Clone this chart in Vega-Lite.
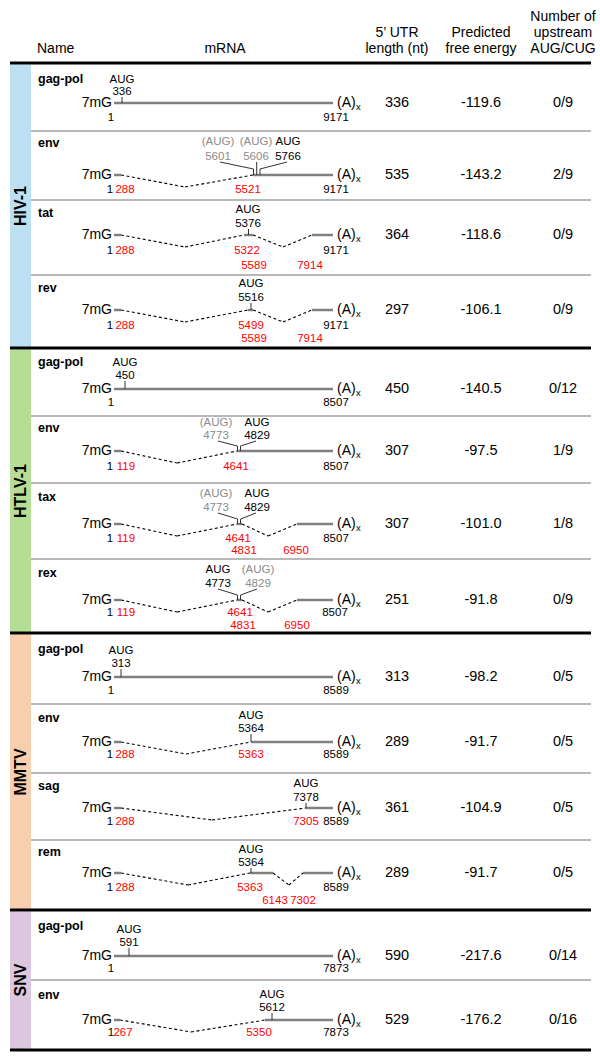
{
"$schema": "https://vega.github.io/schema/vega-lite/v6.json",
"width": 600, "height": 1059, "padding": 0,
"autosize": {"type": "fit", "contains": "padding"},
"background": "white",
"config": {"view": {"stroke": null}, "font": "Liberation Sans"},
"resolve": {"scale": {"color": "independent"}},
"datasets": {
"bars": [
{"sec":"HIV-1","x":10,"x2":31,"y":64.5,"y2":347},
{"sec":"HTLV-1","x":10,"x2":31,"y":349.5,"y2":632},
{"sec":"MMTV","x":10,"x2":31,"y":634.5,"y2":909},
{"sec":"SNV","x":10,"x2":31,"y":911.5,"y2":1049}
],
"lines": [
{"k":"thick","x":10,"y":63,"x2":591,"y2":63},
{"k":"thick","x":10,"y":348,"x2":591,"y2":348},
{"k":"thick","x":10,"y":633,"x2":591,"y2":633},
{"k":"thick","x":10,"y":910,"x2":591,"y2":910},
{"k":"thick","x":10,"y":1050,"x2":591,"y2":1050},
{"k":"sep","x":31,"y":131,"x2":591,"y2":131},
{"k":"sep","x":31,"y":200,"x2":591,"y2":200},
{"k":"sep","x":31,"y":275,"x2":591,"y2":275},
{"k":"sep","x":31,"y":416,"x2":591,"y2":416},
{"k":"sep","x":31,"y":483,"x2":591,"y2":483},
{"k":"sep","x":31,"y":559,"x2":591,"y2":559},
{"k":"sep","x":31,"y":704,"x2":591,"y2":704},
{"k":"sep","x":31,"y":773,"x2":591,"y2":773},
{"k":"sep","x":31,"y":840,"x2":591,"y2":840},
{"k":"sep","x":31,"y":980,"x2":591,"y2":980},

{"k":"exon","x":114,"y":103,"x2":333,"y2":103},
{"k":"exon","x":114,"y":175,"x2":121,"y2":175},
{"k":"exon","x":253,"y":175,"x2":333,"y2":175},
{"k":"exon","x":114,"y":235,"x2":121,"y2":235},
{"k":"exon","x":244,"y":235,"x2":253,"y2":235},
{"k":"exon","x":312,"y":235,"x2":333,"y2":235},
{"k":"exon","x":114,"y":310,"x2":121,"y2":310},
{"k":"exon","x":248,"y":310,"x2":253,"y2":310},
{"k":"exon","x":312,"y":310,"x2":333,"y2":310},
{"k":"exon","x":114,"y":389,"x2":333,"y2":389},
{"k":"exon","x":114,"y":451,"x2":121,"y2":451},
{"k":"exon","x":237,"y":451,"x2":333,"y2":451},
{"k":"exon","x":114,"y":524,"x2":121,"y2":524},
{"k":"exon","x":237,"y":524,"x2":242,"y2":524},
{"k":"exon","x":297,"y":524,"x2":333,"y2":524},
{"k":"exon","x":114,"y":600,"x2":121,"y2":600},
{"k":"exon","x":237,"y":600,"x2":242,"y2":600},
{"k":"exon","x":297,"y":600,"x2":333,"y2":600},
{"k":"exon","x":114,"y":677,"x2":333,"y2":677},
{"k":"exon","x":114,"y":742,"x2":121,"y2":742},
{"k":"exon","x":251,"y":742,"x2":333,"y2":742},
{"k":"exon","x":114,"y":808,"x2":121,"y2":808},
{"k":"exon","x":306,"y":808,"x2":333,"y2":808},
{"k":"exon","x":114,"y":873,"x2":121,"y2":873},
{"k":"exon","x":250,"y":873,"x2":273,"y2":873},
{"k":"exon","x":303,"y":873,"x2":333,"y2":873},
{"k":"exon","x":114,"y":956,"x2":333,"y2":956},
{"k":"exon","x":114,"y":1020,"x2":120,"y2":1020},
{"k":"exon","x":265,"y":1020,"x2":333,"y2":1020},

{"k":"intron","x":121,"y":175,"x2":185,"y2":187},
{"k":"intron","x":185,"y":187,"x2":253,"y2":175},
{"k":"intron","x":121,"y":235,"x2":185,"y2":247},
{"k":"intron","x":185,"y":247,"x2":244,"y2":235},
{"k":"intron","x":253,"y":235,"x2":283,"y2":247},
{"k":"intron","x":283,"y":247,"x2":312,"y2":235},
{"k":"intron","x":121,"y":310,"x2":185,"y2":322},
{"k":"intron","x":185,"y":322,"x2":248,"y2":310},
{"k":"intron","x":253,"y":310,"x2":283,"y2":322},
{"k":"intron","x":283,"y":322,"x2":312,"y2":310},
{"k":"intron","x":121,"y":451,"x2":177,"y2":463},
{"k":"intron","x":177,"y":463,"x2":237,"y2":451},
{"k":"intron","x":121,"y":524,"x2":177,"y2":536},
{"k":"intron","x":177,"y":536,"x2":237,"y2":524},
{"k":"intron","x":242,"y":524,"x2":268,"y2":536},
{"k":"intron","x":268,"y":536,"x2":297,"y2":524},
{"k":"intron","x":121,"y":600,"x2":177,"y2":612},
{"k":"intron","x":177,"y":612,"x2":237,"y2":600},
{"k":"intron","x":242,"y":600,"x2":268,"y2":612},
{"k":"intron","x":268,"y":612,"x2":297,"y2":600},
{"k":"intron","x":121,"y":742,"x2":186,"y2":754},
{"k":"intron","x":186,"y":754,"x2":251,"y2":742},
{"k":"intron","x":121,"y":808,"x2":212,"y2":820},
{"k":"intron","x":212,"y":820,"x2":306,"y2":808},
{"k":"intron","x":121,"y":873,"x2":188,"y2":885},
{"k":"intron","x":188,"y":885,"x2":250,"y2":873},
{"k":"intron","x":273,"y":873,"x2":289,"y2":885},
{"k":"intron","x":289,"y":885,"x2":303,"y2":873},
{"k":"intron","x":120,"y":1020,"x2":191,"y2":1032},
{"k":"intron","x":191,"y":1032,"x2":265,"y2":1020},

{"k":"tick","x":122,"y":97,"x2":122,"y2":103},
{"k":"tick","x":253.5,"y":169,"x2":253.5,"y2":175},
{"k":"tick","x":256.7,"y":169,"x2":256.7,"y2":175},
{"k":"tick","x":260,"y":169,"x2":260,"y2":175},
{"k":"tick","x":248.5,"y":229,"x2":248.5,"y2":235},
{"k":"tick","x":251,"y":303,"x2":251,"y2":310},
{"k":"tick","x":125,"y":381,"x2":125,"y2":389},
{"k":"tick","x":237.5,"y":446,"x2":237.5,"y2":451},
{"k":"tick","x":240.5,"y":446,"x2":240.5,"y2":451},
{"k":"tick","x":237.5,"y":519,"x2":237.5,"y2":524},
{"k":"tick","x":240.5,"y":519,"x2":240.5,"y2":524},
{"k":"tick","x":237.5,"y":595,"x2":237.5,"y2":600},
{"k":"tick","x":240.5,"y":595,"x2":240.5,"y2":600},
{"k":"tick","x":121,"y":669,"x2":121,"y2":677},
{"k":"tick","x":251,"y":734,"x2":251,"y2":742},
{"k":"tick","x":306,"y":803,"x2":306,"y2":808},
{"k":"tick","x":251,"y":868,"x2":251,"y2":873},
{"k":"tick","x":129,"y":948,"x2":129,"y2":956},
{"k":"tick","x":272,"y":1013,"x2":272,"y2":1020},

{"k":"conn","x":220,"y":162,"x2":253.5,"y2":169},
{"k":"conn","x":256.7,"y":162,"x2":256.7,"y2":169},
{"k":"conn","x":287,"y":162,"x2":260,"y2":169},
{"k":"conn","x":218,"y":441,"x2":237.5,"y2":446},
{"k":"conn","x":256,"y":441,"x2":240.5,"y2":446},
{"k":"conn","x":218,"y":513,"x2":237.5,"y2":519},
{"k":"conn","x":256,"y":513,"x2":240.5,"y2":519},
{"k":"conn","x":218,"y":589,"x2":237.5,"y2":595},
{"k":"conn","x":257,"y":589,"x2":240.5,"y2":595}
],
"texts": [
{"k":"hdrL","x":37,"y":49,"s":"Name"},
{"k":"hdr","x":225,"y":49,"s":"mRNA"},
{"k":"hdr","x":397,"y":33,"s":"5’ UTR"},
{"k":"hdr","x":397,"y":49,"s":"length (nt)"},
{"k":"hdr","x":481,"y":33,"s":"Predicted"},
{"k":"hdr","x":481,"y":49,"s":"free energy"},
{"k":"hdr","x":563,"y":17,"s":"Number of"},
{"k":"hdr","x":563,"y":33,"s":"upstream"},
{"k":"hdr","x":563,"y":49,"s":"AUG/CUG"},

{"k":"sec","x":20.5,"y":206,"s":"HIV-1"},
{"k":"sec","x":20.5,"y":491,"s":"HTLV-1"},
{"k":"sec","x":20.5,"y":772,"s":"MMTV"},
{"k":"sec","x":20.5,"y":980,"s":"SNV"},

{"k":"name","x":38,"y":79,"s":"gag-pol"},
{"k":"name","x":38,"y":143,"s":"env"},
{"k":"name","x":38,"y":213,"s":"tat"},
{"k":"name","x":38,"y":288,"s":"rev"},
{"k":"name","x":38,"y":362,"s":"gag-pol"},
{"k":"name","x":38,"y":428,"s":"env"},
{"k":"name","x":38,"y":497,"s":"tax"},
{"k":"name","x":38,"y":573,"s":"rex"},
{"k":"name","x":38,"y":649,"s":"gag-pol"},
{"k":"name","x":38,"y":718,"s":"env"},
{"k":"name","x":38,"y":786,"s":"sag"},
{"k":"name","x":38,"y":852,"s":"rem"},
{"k":"name","x":38,"y":926,"s":"gag-pol"},
{"k":"name","x":38,"y":995,"s":"env"},

{"k":"cap","x":112,"y":103,"s":"7mG"},
{"k":"cap","x":112,"y":175,"s":"7mG"},
{"k":"cap","x":112,"y":235,"s":"7mG"},
{"k":"cap","x":112,"y":310,"s":"7mG"},
{"k":"cap","x":112,"y":389,"s":"7mG"},
{"k":"cap","x":112,"y":451,"s":"7mG"},
{"k":"cap","x":112,"y":524,"s":"7mG"},
{"k":"cap","x":112,"y":600,"s":"7mG"},
{"k":"cap","x":112,"y":677,"s":"7mG"},
{"k":"cap","x":112,"y":742,"s":"7mG"},
{"k":"cap","x":112,"y":808,"s":"7mG"},
{"k":"cap","x":112,"y":873,"s":"7mG"},
{"k":"cap","x":112,"y":956,"s":"7mG"},
{"k":"cap","x":112,"y":1020,"s":"7mG"},

{"k":"pa","x":337,"y":103,"s":"(A)"},
{"k":"pa","x":337,"y":175,"s":"(A)"},
{"k":"pa","x":337,"y":235,"s":"(A)"},
{"k":"pa","x":337,"y":310,"s":"(A)"},
{"k":"pa","x":337,"y":389,"s":"(A)"},
{"k":"pa","x":337,"y":451,"s":"(A)"},
{"k":"pa","x":337,"y":524,"s":"(A)"},
{"k":"pa","x":337,"y":600,"s":"(A)"},
{"k":"pa","x":337,"y":677,"s":"(A)"},
{"k":"pa","x":337,"y":742,"s":"(A)"},
{"k":"pa","x":337,"y":808,"s":"(A)"},
{"k":"pa","x":337,"y":873,"s":"(A)"},
{"k":"pa","x":337,"y":956,"s":"(A)"},
{"k":"pa","x":337,"y":1020,"s":"(A)"},

{"k":"sub","x":356,"y":107,"s":"x"},
{"k":"sub","x":356,"y":179,"s":"x"},
{"k":"sub","x":356,"y":239,"s":"x"},
{"k":"sub","x":356,"y":314,"s":"x"},
{"k":"sub","x":356,"y":393,"s":"x"},
{"k":"sub","x":356,"y":455,"s":"x"},
{"k":"sub","x":356,"y":528,"s":"x"},
{"k":"sub","x":356,"y":604,"s":"x"},
{"k":"sub","x":356,"y":681,"s":"x"},
{"k":"sub","x":356,"y":746,"s":"x"},
{"k":"sub","x":356,"y":812,"s":"x"},
{"k":"sub","x":356,"y":877,"s":"x"},
{"k":"sub","x":356,"y":960,"s":"x"},
{"k":"sub","x":356,"y":1024,"s":"x"},

{"k":"val","x":397,"y":103,"s":"336"},{"k":"val","x":481,"y":103,"s":"-119.6"},{"k":"val","x":563,"y":103,"s":"0/9"},
{"k":"val","x":397,"y":175,"s":"535"},{"k":"val","x":481,"y":175,"s":"-143.2"},{"k":"val","x":563,"y":175,"s":"2/9"},
{"k":"val","x":397,"y":235,"s":"364"},{"k":"val","x":481,"y":235,"s":"-118.6"},{"k":"val","x":563,"y":235,"s":"0/9"},
{"k":"val","x":397,"y":310,"s":"297"},{"k":"val","x":481,"y":310,"s":"-106.1"},{"k":"val","x":563,"y":310,"s":"0/9"},
{"k":"val","x":397,"y":389,"s":"450"},{"k":"val","x":481,"y":389,"s":"-140.5"},{"k":"val","x":563,"y":389,"s":"0/12"},
{"k":"val","x":397,"y":451,"s":"307"},{"k":"val","x":481,"y":451,"s":"-97.5"},{"k":"val","x":563,"y":451,"s":"1/9"},
{"k":"val","x":397,"y":524,"s":"307"},{"k":"val","x":481,"y":524,"s":"-101.0"},{"k":"val","x":563,"y":524,"s":"1/8"},
{"k":"val","x":397,"y":600,"s":"251"},{"k":"val","x":481,"y":600,"s":"-91.8"},{"k":"val","x":563,"y":600,"s":"0/9"},
{"k":"val","x":397,"y":677,"s":"313"},{"k":"val","x":481,"y":677,"s":"-98.2"},{"k":"val","x":563,"y":677,"s":"0/5"},
{"k":"val","x":397,"y":742,"s":"289"},{"k":"val","x":481,"y":742,"s":"-91.7"},{"k":"val","x":563,"y":742,"s":"0/5"},
{"k":"val","x":397,"y":808,"s":"361"},{"k":"val","x":481,"y":808,"s":"-104.9"},{"k":"val","x":563,"y":808,"s":"0/5"},
{"k":"val","x":397,"y":873,"s":"289"},{"k":"val","x":481,"y":873,"s":"-91.7"},{"k":"val","x":563,"y":873,"s":"0/5"},
{"k":"val","x":397,"y":956,"s":"590"},{"k":"val","x":481,"y":956,"s":"-217.6"},{"k":"val","x":563,"y":956,"s":"0/14"},
{"k":"val","x":397,"y":1020,"s":"529"},{"k":"val","x":481,"y":1020,"s":"-176.2"},{"k":"val","x":563,"y":1020,"s":"0/16"},

{"k":"lab","r":"site","x":122,"y":80,"s":"AUG"},
{"k":"lab","r":"site","x":122,"y":92,"s":"336"},
{"k":"lab","r":"site","x":111,"y":118,"s":"1"},
{"k":"lab","r":"site","x":336,"y":118,"s":"9171"},

{"k":"lab","r":"upstream","x":218,"y":142,"s":"(AUG)"},
{"k":"lab","r":"upstream","x":256,"y":142,"s":"(AUG)"},
{"k":"lab","r":"site","x":288,"y":142,"s":"AUG"},
{"k":"lab","r":"upstream","x":218,"y":157,"s":"5601"},
{"k":"lab","r":"upstream","x":256,"y":157,"s":"5606"},
{"k":"lab","r":"site","x":288,"y":157,"s":"5766"},
{"k":"lab","r":"site","x":110,"y":190,"s":"1"},
{"k":"lab","r":"splice","x":125,"y":190,"s":"288"},
{"k":"lab","r":"splice","x":248,"y":190,"s":"5521"},
{"k":"lab","r":"site","x":336,"y":190,"s":"9171"},

{"k":"lab","r":"site","x":248,"y":210,"s":"AUG"},
{"k":"lab","r":"site","x":248,"y":224,"s":"5376"},
{"k":"lab","r":"site","x":110,"y":251,"s":"1"},
{"k":"lab","r":"splice","x":125,"y":251,"s":"288"},
{"k":"lab","r":"splice","x":247,"y":251,"s":"5322"},
{"k":"lab","r":"site","x":336,"y":251,"s":"9171"},
{"k":"lab","r":"splice","x":254,"y":266,"s":"5589"},
{"k":"lab","r":"splice","x":310,"y":266,"s":"7914"},

{"k":"lab","r":"site","x":251,"y":284,"s":"AUG"},
{"k":"lab","r":"site","x":251,"y":298,"s":"5516"},
{"k":"lab","r":"site","x":110,"y":326,"s":"1"},
{"k":"lab","r":"splice","x":125,"y":326,"s":"288"},
{"k":"lab","r":"splice","x":251,"y":326,"s":"5499"},
{"k":"lab","r":"site","x":336,"y":326,"s":"9171"},
{"k":"lab","r":"splice","x":254,"y":339,"s":"5589"},
{"k":"lab","r":"splice","x":310,"y":339,"s":"7914"},

{"k":"lab","r":"site","x":125,"y":363,"s":"AUG"},
{"k":"lab","r":"site","x":125,"y":376,"s":"450"},
{"k":"lab","r":"site","x":111,"y":403,"s":"1"},
{"k":"lab","r":"site","x":336,"y":403,"s":"8507"},

{"k":"lab","r":"upstream","x":216,"y":423,"s":"(AUG)"},
{"k":"lab","r":"site","x":257,"y":423,"s":"AUG"},
{"k":"lab","r":"upstream","x":216,"y":436,"s":"4773"},
{"k":"lab","r":"site","x":257,"y":436,"s":"4829"},
{"k":"lab","r":"site","x":110,"y":467,"s":"1"},
{"k":"lab","r":"splice","x":126,"y":467,"s":"119"},
{"k":"lab","r":"splice","x":236,"y":467,"s":"4641"},
{"k":"lab","r":"site","x":336,"y":467,"s":"8507"},

{"k":"lab","r":"upstream","x":216,"y":494,"s":"(AUG)"},
{"k":"lab","r":"site","x":257,"y":494,"s":"AUG"},
{"k":"lab","r":"upstream","x":216,"y":508,"s":"4773"},
{"k":"lab","r":"site","x":257,"y":508,"s":"4829"},
{"k":"lab","r":"site","x":110,"y":539,"s":"1"},
{"k":"lab","r":"splice","x":126,"y":539,"s":"119"},
{"k":"lab","r":"splice","x":238,"y":539,"s":"4641"},
{"k":"lab","r":"site","x":336,"y":539,"s":"8507"},
{"k":"lab","r":"splice","x":244,"y":551,"s":"4831"},
{"k":"lab","r":"splice","x":296,"y":551,"s":"6950"},

{"k":"lab","r":"site","x":218,"y":570,"s":"AUG"},
{"k":"lab","r":"upstream","x":258,"y":570,"s":"(AUG)"},
{"k":"lab","r":"site","x":218,"y":584,"s":"4773"},
{"k":"lab","r":"upstream","x":258,"y":584,"s":"4829"},
{"k":"lab","r":"site","x":110,"y":613,"s":"1"},
{"k":"lab","r":"splice","x":126,"y":613,"s":"119"},
{"k":"lab","r":"splice","x":240,"y":613,"s":"4641"},
{"k":"lab","r":"site","x":335,"y":613,"s":"8507"},
{"k":"lab","r":"splice","x":243,"y":626,"s":"4831"},
{"k":"lab","r":"splice","x":297,"y":626,"s":"6950"},

{"k":"lab","r":"site","x":121,"y":651,"s":"AUG"},
{"k":"lab","r":"site","x":121,"y":664,"s":"313"},
{"k":"lab","r":"site","x":111,"y":691,"s":"1"},
{"k":"lab","r":"site","x":336,"y":691,"s":"8589"},

{"k":"lab","r":"site","x":251,"y":716,"s":"AUG"},
{"k":"lab","r":"site","x":251,"y":729,"s":"5364"},
{"k":"lab","r":"site","x":110,"y":755,"s":"1"},
{"k":"lab","r":"splice","x":125,"y":755,"s":"288"},
{"k":"lab","r":"splice","x":251,"y":755,"s":"5363"},
{"k":"lab","r":"site","x":336,"y":755,"s":"8589"},

{"k":"lab","r":"site","x":306,"y":784,"s":"AUG"},
{"k":"lab","r":"site","x":306,"y":798,"s":"7378"},
{"k":"lab","r":"site","x":110,"y":822,"s":"1"},
{"k":"lab","r":"splice","x":125,"y":822,"s":"288"},
{"k":"lab","r":"splice","x":306,"y":822,"s":"7305"},
{"k":"lab","r":"site","x":336,"y":822,"s":"8589"},

{"k":"lab","r":"site","x":251,"y":850,"s":"AUG"},
{"k":"lab","r":"site","x":251,"y":863,"s":"5364"},
{"k":"lab","r":"site","x":110,"y":888,"s":"1"},
{"k":"lab","r":"splice","x":125,"y":888,"s":"288"},
{"k":"lab","r":"splice","x":250,"y":888,"s":"5363"},
{"k":"lab","r":"site","x":336,"y":888,"s":"8589"},
{"k":"lab","r":"splice","x":275,"y":901,"s":"6143"},
{"k":"lab","r":"splice","x":303,"y":901,"s":"7302"},

{"k":"lab","r":"site","x":129,"y":930,"s":"AUG"},
{"k":"lab","r":"site","x":129,"y":943,"s":"591"},
{"k":"lab","r":"site","x":111,"y":969,"s":"1"},
{"k":"lab","r":"site","x":336,"y":969,"s":"7873"},

{"k":"lab","r":"site","x":272,"y":995,"s":"AUG"},
{"k":"lab","r":"site","x":272,"y":1008,"s":"5612"},
{"k":"lab","r":"site","x":111,"y":1033,"s":"1"},
{"k":"lab","r":"splice","x":123,"y":1033,"s":"267"},
{"k":"lab","r":"splice","x":259,"y":1033,"s":"5350"},
{"k":"lab","r":"site","x":336,"y":1033,"s":"7873"}
]
},
"encoding": {
"x": {"field": "x", "type": "quantitative", "scale": {"domain": [0, 600], "nice": false, "zero": false}, "axis": null},
"y": {"field": "y", "type": "quantitative", "scale": {"domain": [0, 1059], "reverse": true, "nice": false, "zero": false}, "axis": null}
},
"layer": [
{"data": {"name": "bars"}, "mark": {"type": "rect"},
 "encoding": {"x2": {"field": "x2"}, "y2": {"field": "y2"},
  "color": {"field": "sec", "type": "nominal", "legend": null,
   "scale": {"domain": ["HIV-1","HTLV-1","MMTV","SNV"], "range": ["#bcdff1","#b6dd94","#f8cfae","#dbc7de"]}}}},
{"data": {"name": "lines"}, "transform": [{"filter": "datum.k == 'sep'"}],
 "mark": {"type": "rule", "color": "#a0a0a0", "strokeWidth": 1.5},
 "encoding": {"x2": {"field": "x2"}, "y2": {"field": "y2"}}},
{"data": {"name": "lines"}, "transform": [{"filter": "datum.k == 'thick'"}],
 "mark": {"type": "rule", "color": "#000000", "strokeWidth": 3},
 "encoding": {"x2": {"field": "x2"}, "y2": {"field": "y2"}}},
{"data": {"name": "lines"}, "transform": [{"filter": "datum.k == 'intron'"}],
 "mark": {"type": "rule", "color": "#000000", "strokeWidth": 1.1, "strokeDash": [3, 2.5]},
 "encoding": {"x2": {"field": "x2"}, "y2": {"field": "y2"}}},
{"data": {"name": "lines"}, "transform": [{"filter": "datum.k == 'exon'"}],
 "mark": {"type": "rule", "color": "#808080", "strokeWidth": 2.5},
 "encoding": {"x2": {"field": "x2"}, "y2": {"field": "y2"}}},
{"data": {"name": "lines"}, "transform": [{"filter": "datum.k == 'tick' || datum.k == 'conn'"}],
 "mark": {"type": "rule", "color": "#333333", "strokeWidth": 1},
 "encoding": {"x2": {"field": "x2"}, "y2": {"field": "y2"}}},
{"data": {"name": "texts"}, "transform": [{"filter": "datum.k == 'hdr'"}],
 "mark": {"type": "text", "align": "center", "baseline": "middle", "fontSize": 14, "font": "Liberation Sans", "color": "#000"},
 "encoding": {"text": {"field": "s"}}},
{"data": {"name": "texts"}, "transform": [{"filter": "datum.k == 'hdrL'"}],
 "mark": {"type": "text", "align": "left", "baseline": "middle", "fontSize": 14, "font": "Liberation Sans", "color": "#000"},
 "encoding": {"text": {"field": "s"}}},
{"data": {"name": "texts"}, "transform": [{"filter": "datum.k == 'sec'"}],
 "mark": {"type": "text", "align": "center", "baseline": "middle", "angle": 270, "fontSize": 16, "fontWeight": "bold", "font": "Liberation Sans", "color": "#000"},
 "encoding": {"text": {"field": "s"}}},
{"data": {"name": "texts"}, "transform": [{"filter": "datum.k == 'name'"}],
 "mark": {"type": "text", "align": "left", "baseline": "middle", "fontSize": 12.5, "fontWeight": "bold", "font": "Liberation Sans", "color": "#000"},
 "encoding": {"text": {"field": "s"}}},
{"data": {"name": "texts"}, "transform": [{"filter": "datum.k == 'cap'"}],
 "mark": {"type": "text", "align": "right", "baseline": "middle", "fontSize": 14, "font": "Liberation Sans", "color": "#000"},
 "encoding": {"text": {"field": "s"}}},
{"data": {"name": "texts"}, "transform": [{"filter": "datum.k == 'pa'"}],
 "mark": {"type": "text", "align": "left", "baseline": "middle", "fontSize": 14, "font": "Liberation Sans", "color": "#000"},
 "encoding": {"text": {"field": "s"}}},
{"data": {"name": "texts"}, "transform": [{"filter": "datum.k == 'sub'"}],
 "mark": {"type": "text", "align": "left", "baseline": "middle", "fontSize": 9.5, "font": "Liberation Sans", "color": "#000"},
 "encoding": {"text": {"field": "s"}}},
{"data": {"name": "texts"}, "transform": [{"filter": "datum.k == 'val'"}],
 "mark": {"type": "text", "align": "center", "baseline": "middle", "fontSize": 14.5, "font": "Liberation Sans", "color": "#000"},
 "encoding": {"text": {"field": "s"}}},
{"data": {"name": "texts"}, "transform": [{"filter": "datum.k == 'lab'"}],
 "mark": {"type": "text", "align": "center", "baseline": "middle", "fontSize": 11.5, "font": "Liberation Sans"},
 "encoding": {"text": {"field": "s"},
  "color": {"field": "r", "type": "nominal", "legend": null,
   "scale": {"domain": ["site","upstream","splice"], "range": ["#000000","#8c8c8c","#ff0000"]}}}}
]
}
